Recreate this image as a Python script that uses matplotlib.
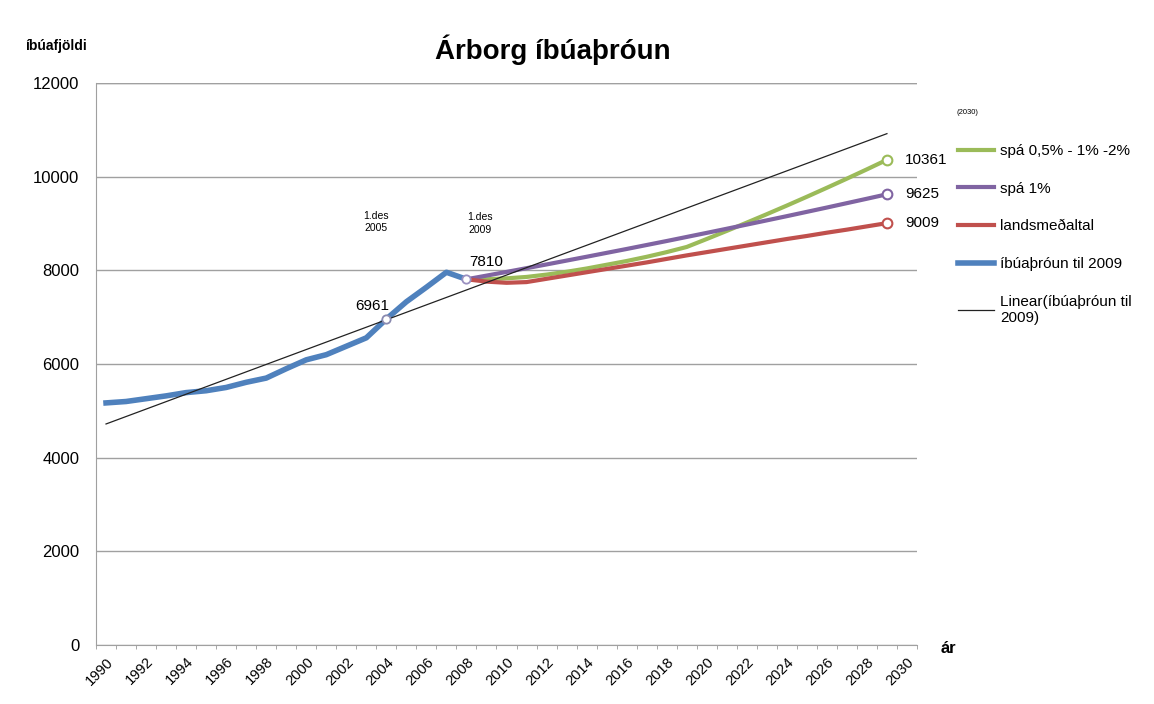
import matplotlib.pyplot as plt
from matplotlib.ticker import MultipleLocator

plt.rcParams['font.family'] = ['Liberation Sans', 'DejaVu Sans']

# íbúaþróun til 2009
years_hist = list(range(1990, 2009))
pop_hist = [5170, 5200, 5260, 5320, 5390, 5430, 5500, 5610, 5700, 5900,
            6090, 6200, 6380, 6560, 6961, 7330, 7640, 7960, 7810]

# spár 2008-2029
years_fc = list(range(2008, 2030))
spa_mix = [7810, 7810, 7830, 7860, 7910, 7970, 8040, 8120, 8200, 8290, 8390,
           8500, 8670, 8843, 9020, 9200, 9384, 9572, 9764, 9959, 10158, 10361]
spa_1 = [7810, 7888, 7967, 8047, 8127, 8209, 8291, 8374, 8457, 8542, 8627,
         8714, 8801, 8889, 8978, 9068, 9158, 9250, 9342, 9436, 9530, 9625]
lands = [7810, 7760, 7735, 7750, 7820, 7890, 7960, 8030, 8100, 8170, 8245,
         8320, 8390, 8460, 8530, 8600, 8670, 8735, 8805, 8870, 8940, 9009]

# linuleg leitni
trend_years = [1990, 2029]
trend_vals = [4720, 10920]

blue = '#4f81bd'
red = '#c0504d'
green = '#9bbb59'
purple = '#8064a2'

fig = plt.figure(figsize=(11.54, 7.04), dpi=100)
ax = fig.add_axes([0.0832, 0.0838, 0.7114, 0.7982])

l_g, = ax.plot(years_fc, spa_mix, color=green, lw=3, label='spá 0,5% - 1% -2%', zorder=3)
l_p, = ax.plot(years_fc, spa_1, color=purple, lw=3, label='spá 1%', zorder=3)
l_r, = ax.plot(years_fc, lands, color=red, lw=3, label='landsmeðaltal', zorder=3)
l_b, = ax.plot(years_hist, pop_hist, color=blue, lw=4, label='íbúaþróun til 2009', zorder=4)
l_t, = ax.plot(trend_years, trend_vals, color='#222222', lw=0.9,
               label='Linear(íbúaþróun til\n2009)', zorder=5)

# hringir
ax.plot(2004, pop_hist[14], 'o', ms=6, mfc='white', mec='#8a8ab0', mew=1.3, zorder=6)
ax.plot(2008, pop_hist[-1], 'o', ms=6, mfc='white', mec='#9a90c0', mew=1.3, zorder=6)
ax.plot(2029, spa_mix[-1], 'o', ms=7, mfc='white', mec=green, mew=1.5, zorder=6)
ax.plot(2029, spa_1[-1], 'o', ms=7, mfc='white', mec=purple, mew=1.5, zorder=6)
ax.plot(2029, lands[-1], 'o', ms=7, mfc='white', mec=red, mew=1.5, zorder=6)

ax.text(2003.3, pop_hist[14] + 120, '6961', fontsize=11, ha='center', va='bottom')
ax.text(2009.0, pop_hist[-1] + 230, '7810', fontsize=11, ha='center', va='bottom')
ax.text(2003.5, 8800, '1.des\n2005', fontsize=7.5, ha='center', va='bottom', linespacing=1.3)
ax.text(2008.7, 8760, '1.des\n2009', fontsize=7.5, ha='center', va='bottom', linespacing=1.3)
ax.text(2029.9, spa_mix[-1], '10361', fontsize=11, ha='left', va='center')
ax.text(2029.9, spa_1[-1], '9625', fontsize=11, ha='left', va='center')
ax.text(2029.9, lands[-1], '9009', fontsize=11, ha='left', va='center')

ax.set_xlim(1989.5, 2030.5)
ax.set_ylim(0, 12000)
ax.yaxis.set_major_locator(MultipleLocator(2000))
ax.set_xticks(list(range(1990, 2031, 2)))
ax.set_xticks([y + 0.5 for y in range(1989, 2031)], minor=True)
ax.tick_params(axis='x', which='major', length=0, labelsize=10.5, pad=7)
ax.tick_params(axis='x', which='minor', length=3, color='#999999', direction='out')
ax.tick_params(axis='y', length=0, labelsize=12, pad=12)
for lab in ax.get_xticklabels():
    lab.set_rotation(45)
    lab.set_ha('right')
    lab.set_rotation_mode('anchor')

ax.grid(axis='y', color='#a0a0a0', lw=1)
ax.set_axisbelow(True)
for s in ['top', 'right']:
    ax.spines[s].set_visible(False)
ax.spines['left'].set_color('#a0a0a0')
ax.spines['bottom'].set_color('#a0a0a0')
ax.axhline(12000, color='#a0a0a0', lw=1, zorder=0)

fig.text(0.479, 0.93, 'Árborg íbúaþróun', fontsize=20, fontweight='bold', ha='center', va='center')
fig.text(0.049, 0.935, 'íbúafjöldi', fontsize=10, fontweight='bold', ha='center', va='center')
fig.text(0.815, 0.079, 'ár', fontsize=12, fontweight='bold', ha='left', va='center')
fig.text(0.829, 0.84, '(2030)', fontsize=5.5, ha='left', va='center')

fig.legend(handles=[l_g, l_p, l_r, l_b, l_t], loc='upper left',
           bbox_to_anchor=(0.818, 0.815), frameon=False, fontsize=11,
           handlelength=2.4, labelspacing=1.55, handletextpad=0.4)

fig.savefig('out.png', dpi=100)
